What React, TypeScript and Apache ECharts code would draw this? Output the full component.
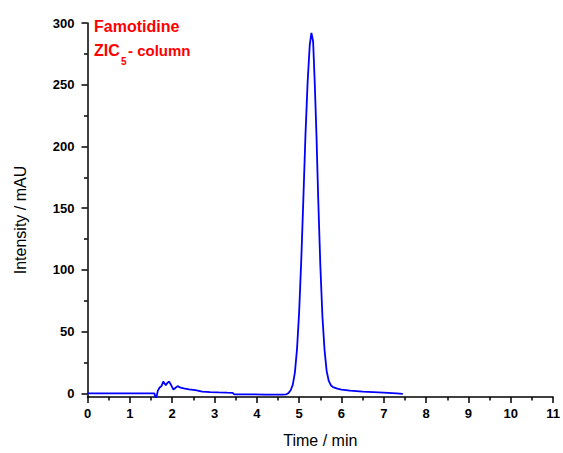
import React, { useEffect, useRef } from "react";
import * as echarts from "echarts";

const time: number[] = [
  0, 0.5, 1.0, 1.5, 1.58, 1.6, 1.63, 1.66, 1.7, 1.75, 1.79, 1.82, 1.85, 1.89, 1.93, 1.97,
  2.03, 2.08, 2.13, 2.2, 2.3, 2.4, 2.55, 2.71, 2.9, 3.1, 3.3, 3.43, 3.46, 3.8, 4.2, 4.6,
  4.7, 4.75, 4.8, 4.85, 4.9, 4.95, 5.0, 5.05, 5.1, 5.15, 5.2, 5.25, 5.29, 5.33, 5.37,
  5.41, 5.45, 5.5, 5.55, 5.6, 5.65, 5.7, 5.75, 5.8, 5.9, 6.0, 6.2, 6.5, 7.0, 7.3, 7.45,
];
const intensity: number[] = [
  0, 0, 0, 0, 0, -3, -3, 2, 4.5, 6, 9.5, 8, 6.5, 8.5, 9.5, 7,
  3, 4.5, 5.8, 4.5, 3.8, 3.2, 2.5, 1.4, 1.0, 0.7, 0.5, 0.4, -0.8, -0.9, -1, -1,
  -0.8, 0.3, 2.5, 7, 17, 36, 66, 108, 158, 210, 252, 282, 292, 285, 250,
  208, 158, 104, 62, 35, 18, 10, 6.5, 5, 3.8, 3, 2.2, 1.4, 0.6, 0, -0.5,
];
const yMajorTicks: number[] = [0, 50, 100, 150, 200, 250, 300];
const yMinorTicks: number[] = [25, 75, 125, 175, 225, 275];

const FONT = "Arial, 'Liberation Sans', sans-serif";

export default function App() {
  const ref = useRef<HTMLDivElement>(null);
  useEffect(() => {
    if (!ref.current) return;
    const chart = echarts.init(ref.current, undefined, { renderer: "svg" });
    const data = time.map((t, i) => [t, intensity[i]]);
    chart.setOption({
      animation: false,
      backgroundColor: "#ffffff",
      grid: { left: 87.5, right: 8, top: 23, bottom: 51 },
      xAxis: {
        type: "value",
        min: 0,
        max: 11,
        interval: 1,
        name: "Time / min",
        nameLocation: "middle",
        nameGap: 35,
        nameTextStyle: { fontFamily: FONT, fontSize: 16, color: "#000" },
        axisLine: { onZero: false, lineStyle: { color: "#000", width: 1.5 } },
        axisTick: { show: true, length: 6, lineStyle: { color: "#000", width: 1.5 } },
        minorTick: { show: true, splitNumber: 2, length: 3.5, lineStyle: { color: "#000", width: 1.5 } },
        axisLabel: { fontFamily: FONT, fontSize: 13, fontWeight: "bold", color: "#000", margin: 10 },
        splitLine: { show: false },
      },
      yAxis: [
        {
          type: "value",
          min: -3,
          max: 300,
          position: "left",
          axisLine: { show: true, onZero: false, lineStyle: { color: "#000", width: 1.5 } },
          axisTick: { show: true, length: 6, customValues: yMajorTicks, lineStyle: { color: "#000", width: 1.5 } },
          axisLabel: {
            customValues: yMajorTicks,
            fontFamily: FONT,
            fontSize: 13,
            fontWeight: "bold",
            color: "#000",
            margin: 13,
          },
          splitLine: { show: false },
        },
        {
          type: "value",
          min: -3,
          max: 300,
          position: "left",
          axisLine: { show: false, onZero: false },
          axisTick: { show: true, length: 3.5, customValues: yMinorTicks, lineStyle: { color: "#000", width: 1.5 } },
          axisLabel: { show: false },
          splitLine: { show: false },
        },
      ],
      graphic: [
        {
          type: "text",
          x: 20,
          y: 220,
          rotation: Math.PI / 2,
          style: {
            text: "Intensity / mAU",
            fontFamily: FONT,
            fontSize: 16,
            fill: "#000",
            align: "center",
            verticalAlign: "middle",
          },
        },
        {
          type: "text",
          left: 94,
          top: 18,
          style: { text: "Famotidine", fontFamily: FONT, fontSize: 16, fontWeight: "bold", fill: "#ff0000" },
        },
        {
          type: "text",
          left: 94,
          top: 42.5,
          style: { text: "ZIC", fontFamily: FONT, fontSize: 16, fontWeight: "bold", fill: "#ff0000" },
        },
        {
          type: "text",
          left: 121,
          top: 56,
          style: { text: "5", fontFamily: FONT, fontSize: 10, fontWeight: "bold", fill: "#ff0000" },
        },
        {
          type: "text",
          left: 128,
          top: 43,
          style: { text: "- column", fontFamily: FONT, fontSize: 15, fontWeight: "bold", fill: "#ff0000" },
        },
      ],
      series: [
        {
          type: "line",
          data,
          yAxisIndex: 0,
          showSymbol: false,
          symbol: "none",
          smooth: false,
          lineStyle: { color: "#0000ff", width: 1.8 },
          clip: true,
        },
      ],
    });
    return () => chart.dispose();
  }, []);
  return <div ref={ref} style={{ position: "fixed", left: 0, top: 0, width: 563, height: 453 }} />;
}
